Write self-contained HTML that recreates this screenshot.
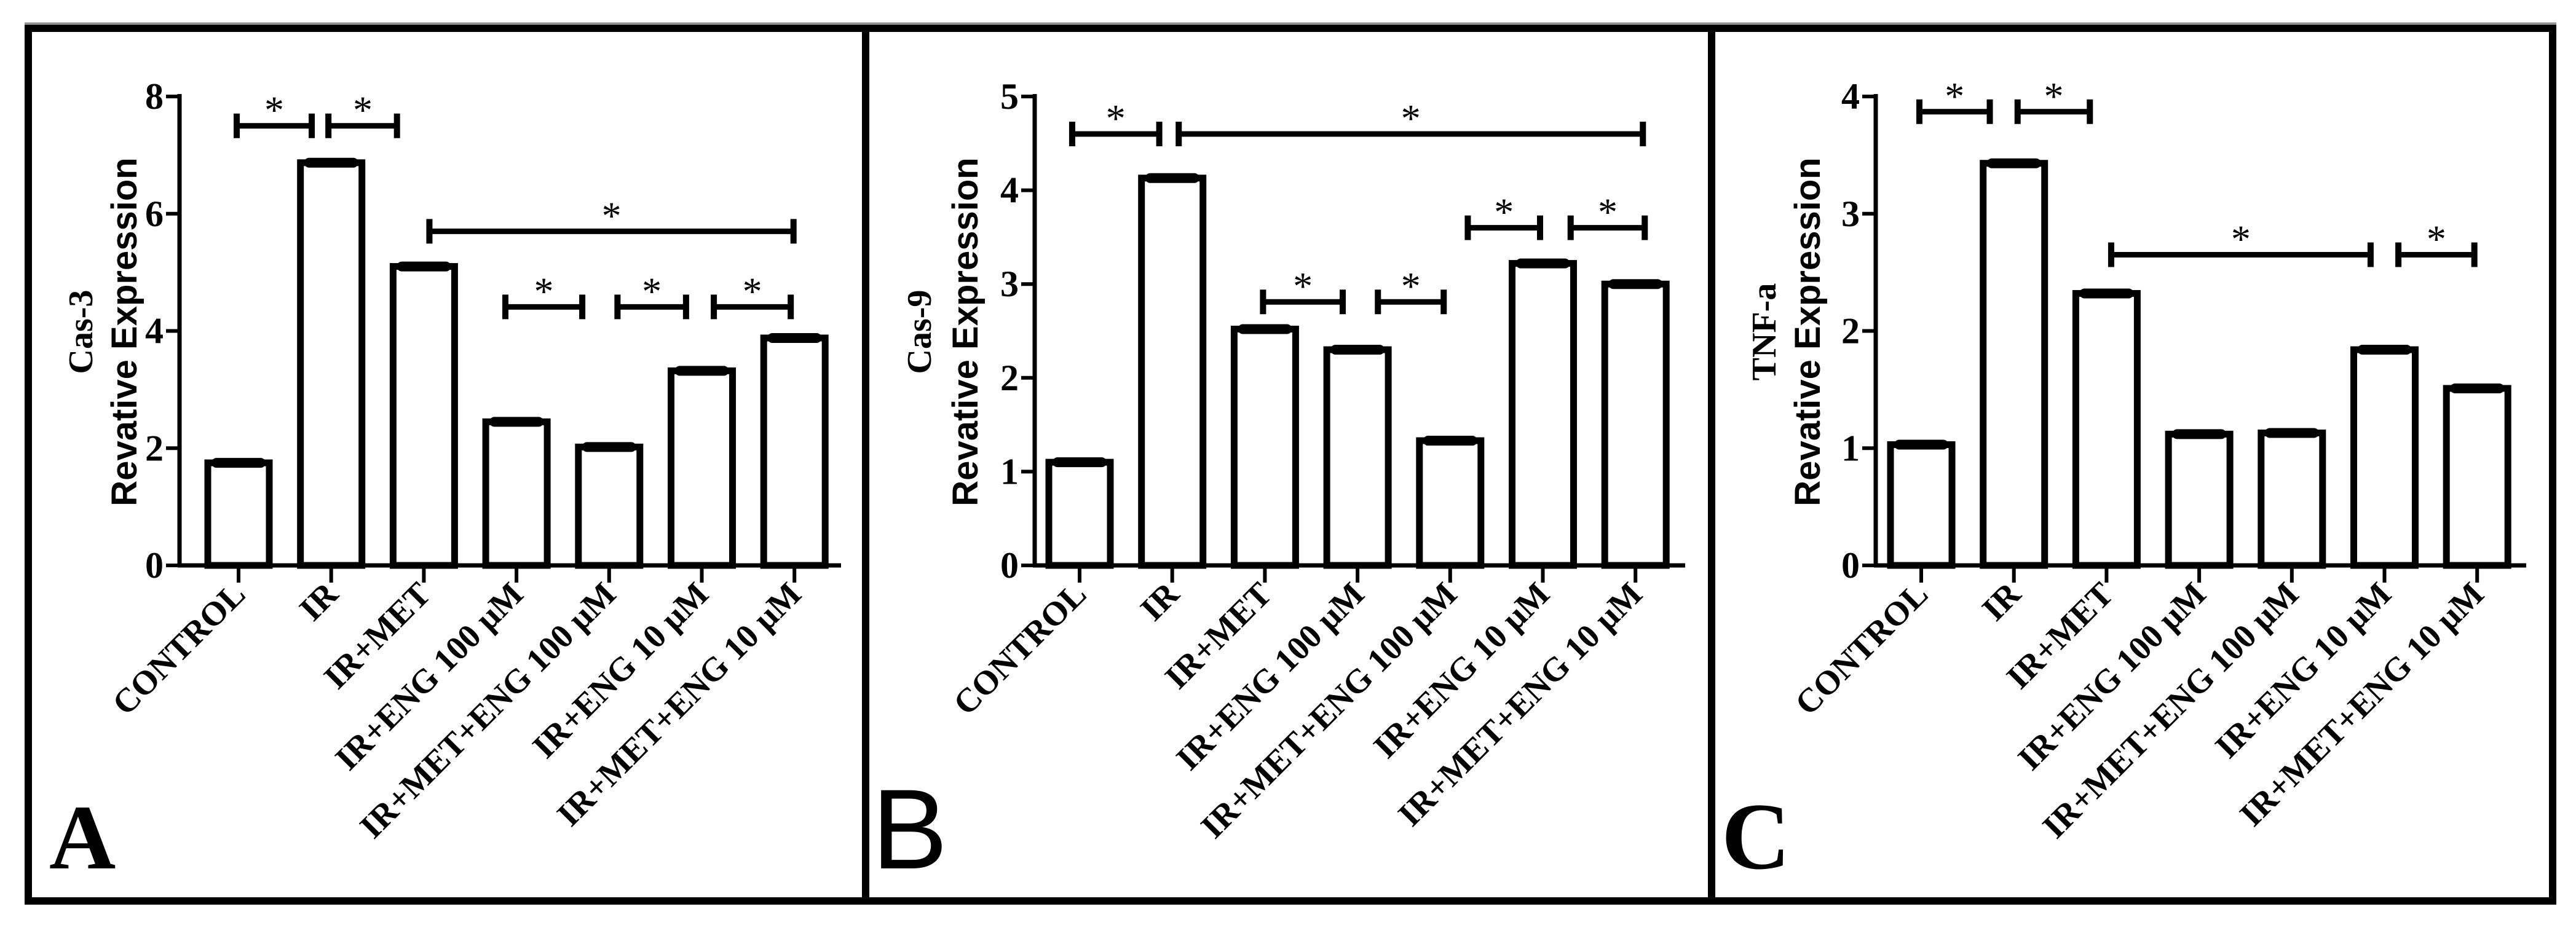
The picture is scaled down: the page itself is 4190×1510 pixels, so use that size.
<!DOCTYPE html>
<html><head><meta charset="utf-8"><style>
html,body{margin:0;padding:0;background:#fff}
svg{display:block}
.tk{font-family:"Liberation Serif",serif;font-weight:bold;font-size:60px}
.xl{font-family:"Liberation Serif",serif;font-weight:bold;font-size:55px}
.yt1{font-family:"Liberation Serif",serif;font-weight:bold;font-size:56px}
.yt2{font-family:"Liberation Sans",sans-serif;font-weight:bold;font-size:58px}
.st{font-family:"Liberation Serif",serif;font-size:64px}
</style></head><body>
<svg id="fig" width="4190" height="1510" viewBox="0 0 4190 1510" xmlns="http://www.w3.org/2000/svg">
<rect x="0" y="0" width="4190" height="1510" fill="#fff"/>
<line x1="40" y1="38" x2="4158" y2="38" stroke="#888" stroke-width="3"/>
<rect x="46" y="46" width="4106" height="1420" fill="none" stroke="#000" stroke-width="12"/>
<line x1="1408" y1="46" x2="1408" y2="1466" stroke="#000" stroke-width="12"/>
<line x1="2784" y1="46" x2="2784" y2="1466" stroke="#000" stroke-width="12"/>
</svg>
<script>
const categories = ["CONTROL","IR","IR+MET","IR+ENG 100 μM","IR+MET+ENG 100 μM","IR+ENG 10 μM","IR+MET+ENG 10 μM"];
const valuesA = [1.75, 6.87, 5.1, 2.45, 2.02, 3.32, 3.88];
const valuesB = [1.1, 4.13, 2.52, 2.3, 1.33, 3.22, 3.0];
const valuesC = [1.03, 3.43, 2.32, 1.12, 1.13, 1.84, 1.51];
const ticksA = [0, 2, 4, 6, 8];
const ticksB = [0, 1, 2, 3, 4, 5];
const ticksC = [0, 1, 2, 3, 4];
// significance brackets: [from category pos, to category pos, y value]
const sigA = [[-0.02,0.79,7.5],[0.97,1.71,7.5],[2.06,5.99,5.7],[2.88,3.71,4.41],[4.09,4.83,4.41],[5.13,5.96,4.41]];
const sigB = [[-0.08,0.86,4.6],[1.07,6.08,4.6],[1.98,2.84,2.81],[3.22,3.93,2.81],[4.19,4.97,3.6],[5.3,6.1,3.6]];
const sigC = [[-0.02,0.74,3.87],[1.04,1.82,3.87],[2.05,4.85,2.65],[5.15,5.97,2.65]];

const NS="http://www.w3.org/2000/svg";
const svg=document.getElementById('fig');
function mk(tag,attrs,parent){const e=document.createElementNS(NS,tag);for(const k in attrs)e.setAttribute(k,attrs[k]);(parent||svg).appendChild(e);return e;}

function drawPanel(p){
  const g=mk('g',{});
  
  
  const y0=920, yTop=157;
  const ymax=p.ticks[p.ticks.length-1];
  const yS=v=>y0-(v/ymax)*(y0-yTop);
  const xS=i=>p.x0+i*150.7;
  const bw=100;
  p.values.forEach((v,i)=>{
    const r=mk('rect',{x:xS(i)-bw/2,y:yS(v),width:bw,height:y0-yS(v),fill:'#fff',stroke:'#000','stroke-width':11},g);
    
    
    const c=mk('rect',{x:xS(i)-bw/2+6,y:yS(v)-8,width:bw-12,height:16,rx:8,fill:'#000'},g);
    
    
  });
  const ya=mk('line',{x1:p.ax,y1:yTop-4,x2:p.ax,y2:y0,stroke:'#000','stroke-width':7},g);
  
  
  const xa=mk('line',{x1:p.ax-3,y1:y0,x2:p.axEnd,y2:y0,stroke:'#000','stroke-width':7},g);
  
  
  p.ticks.forEach(t=>{
    mk('line',{x1:p.ax-22,y1:yS(t),x2:p.ax,y2:yS(t),stroke:'#000','stroke-width':6},g);
    const tl=mk('text',{x:p.ax-26,y:yS(t)+20,'text-anchor':'end',class:'tk'},g);
    tl.textContent=t;
    
    
  });
  categories.forEach((c,i)=>{
    mk('line',{x1:xS(i),y1:y0,x2:xS(i),y2:y0+28,stroke:'#000','stroke-width':6},g);
    const tx=xS(i)+14, ty=y0+50;
    const t=mk('text',{x:tx,y:ty,'text-anchor':'end',class:'xl',transform:`rotate(-45 ${tx} ${ty})`},g);
    t.textContent=c;
    
    
  });
  p.sig.forEach(s=>{
    const a=xS(s[0]), b=xS(s[1]), y=yS(s[2]);
    mk('line',{x1:a,y1:y,x2:b,y2:y,stroke:'#000','stroke-width':9},g);
    mk('line',{x1:a,y1:y-20,x2:a,y2:y+20,stroke:'#000','stroke-width':10},g);
    mk('line',{x1:b,y1:y-20,x2:b,y2:y+20,stroke:'#000','stroke-width':10},g);
    const st=mk('text',{x:(a+b)/2,y:y-4,'text-anchor':'middle',class:'st'},g);
    st.textContent='*';
    
    
  });
  const t1=mk('text',{x:p.t1x,y:540,'text-anchor':'middle',class:'yt1',transform:`rotate(-90 ${p.t1x} 540)`},g);
  t1.textContent=p.t1;
  
  
  const t2=mk('text',{x:p.t2x,y:540,'text-anchor':'middle',class:'yt2',transform:`rotate(-90 ${p.t2x} 540)`},g);
  t2.textContent='Revative Expression';
  
  
  const L=mk('text',{x:p.lx,y:1413,style:p.lstyle},g);
  L.textContent=p.letter;
  
  
}
drawPanel({name:'panel-a-cas3',values:valuesA,ticks:ticksA,sig:sigA,x0:388,ax:292,axEnd:1368,t1:'Cas-3',t1x:150,t2x:222,letter:'A',lx:80,lstyle:'font-family:"Liberation Serif",serif;font-weight:bold;font-size:150px'});
drawPanel({name:'panel-b-cas9',values:valuesB,ticks:ticksB,sig:sigB,x0:1756,ax:1683,axEnd:2741,t1:'Cas-9',t1x:1514,t2x:1590,letter:'B',lx:1418,lstyle:'font-family:"Liberation Sans",sans-serif;font-size:185px'});
drawPanel({name:'panel-c-tnfa',values:valuesC,ticks:ticksC,sig:sigC,x0:3125,ax:3051,axEnd:4109,t1:'TNF-a',t1x:2888,t2x:2960,letter:'C',lx:2800,lstyle:'font-family:"Liberation Serif",serif;font-weight:bold;font-size:155px'});
</script>
</body></html>
